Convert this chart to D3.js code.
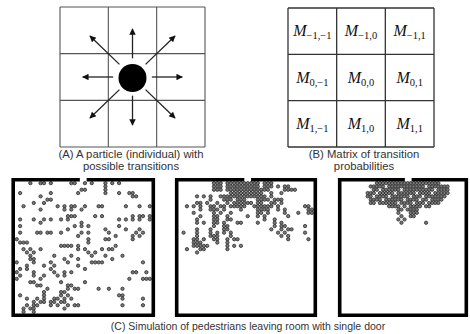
<!DOCTYPE html>
<html>
<head>
<meta charset="utf-8">
<script src="https://cdn.jsdelivr.net/npm/d3@7"></script>
<style>
  body { margin: 0; background: #fff; }
  text { font-family: "Liberation Sans", Arial, sans-serif; }
</style>
</head>
<body>
<script>
// 3x3 neighbourhood: the eight moves and the matrix indices
const moves = [[-1, -1], [-1, 0], [-1, 1], [0, -1], [0, 1], [1, -1], [1, 0], [1, 1]];
const matrixRows = [-1, 0, 1];
const matrixCols = [-1, 0, 1];

const captionA = ["(A) A particle (individual) with", "possible transitions"];
const captionB = ["(B) Matrix of transition", "probabilities"];
const captionC = "(C) Simulation of pedestrians leaving room with single door";

// occupied lattice cells (40 x 40 room), [row, [columns]]
const room1 = [
  [0, [4, 7, 8, 10, 16, 17, 20, 22, 26, 28, 30]],
  [1, [26]],
  [2, [19, 20, 26]],
  [3, [1, 10, 18, 26, 30, 33, 34]],
  [4, [7, 34, 35]],
  [5, [9, 10]],
  [6, [5, 8]],
  [7, [2, 12, 14, 16, 17, 20, 24, 25, 32, 36, 39]],
  [8, [7, 14, 16, 19]],
  [10, [15, 16, 17, 23, 25, 34, 36, 37, 39]],
  [11, [1, 5, 8, 10, 13, 15, 30, 32, 34, 36, 39]],
  [12, [7, 19]],
  [13, [1, 17, 19, 21, 30]],
  [14, [15, 26, 32, 36]],
  [15, [1, 6, 7, 9, 10, 13, 19, 21, 27, 35, 37]],
  [16, [18, 29, 34, 36]],
  [17, [0, 21, 26, 27, 34]],
  [18, [1, 2, 3, 21]],
  [19, [13, 14, 15, 16, 18, 29]],
  [20, [2, 4, 7, 18, 20, 25, 27, 28]],
  [21, [3, 5, 21, 23]],
  [22, [4, 11, 16, 22, 26, 31]],
  [23, [4, 5, 14, 18, 28]],
  [24, [0, 5, 10, 15, 22, 23, 24, 25, 37]],
  [25, [3, 8, 11, 18]],
  [26, [1, 3, 10, 20]],
  [27, [0, 5, 11, 14, 16, 34, 35, 38]],
  [28, [1, 5, 8, 12, 14]],
  [29, [0, 7, 33, 37, 38, 39]],
  [30, [4, 5, 13, 20]],
  [31, [6, 7, 15, 16]],
  [32, [9, 15, 17, 18, 24, 27, 31]],
  [33, [8, 13, 14]],
  [34, [1, 8, 13, 15, 30, 31]],
  [35, [3, 6, 8, 11, 12, 14, 16, 31, 37]],
  [36, [5, 7, 8, 10, 11, 13, 14]],
  [37, [3, 5, 6, 10, 12, 15, 17, 18, 31, 37]],
  [38, [2, 4, 5, 14]],
  [39, [2, 5]]
];

const room2 = [
  [0, [10, 11, 12, 14, 15, 16, 17, 18, 19, 20, 21, 22, 23, 25, 26, 27]],
  [1, [10, 11, 12, 14, 15, 16, 17, 18, 19, 20, 21, 22, 23, 25, 26, 27, 29, 31, 32]],
  [2, [10, 11, 12, 14, 15, 16, 17, 18, 19, 20, 21, 22, 23, 24, 25, 26, 31, 32, 33, 34]],
  [3, [15, 16, 17, 18, 19, 20, 21, 22, 23, 24, 27, 30]],
  [4, [5, 7, 9, 12, 13, 14, 15, 16, 17, 18, 19, 20, 21, 22, 23, 24, 25, 27]],
  [5, [9, 13, 14, 15, 17, 18, 19, 23, 24, 25, 26, 28, 29, 30]],
  [6, [5, 6, 8, 11, 14, 16, 17, 18, 19, 20, 21, 23, 24, 27, 28, 30]],
  [7, [2, 4, 6, 9, 10, 12, 13, 15, 16, 17, 18, 19, 22, 23, 24, 25, 26, 27, 29, 37, 38]],
  [8, [6, 9, 10, 11, 13, 18, 23, 24, 25, 26, 29, 31, 38, 39]],
  [9, [4, 10, 12, 15, 23, 24, 26, 31, 35, 38, 39]],
  [10, [6, 10, 11, 14, 20, 23, 25, 32]],
  [11, [5, 10, 11, 14, 15, 25, 28]],
  [12, [5, 7, 10, 11, 13, 17, 18, 23, 28, 30]],
  [13, [10, 13, 14, 28, 30, 31, 37]],
  [14, [5, 9, 13, 14, 27, 30, 32, 33]],
  [15, [1, 5, 9, 11, 13, 15, 29, 31, 37]],
  [16, [5, 9, 10, 11, 15, 30, 32]],
  [17, [4, 5, 7, 10, 11, 14, 16, 17, 32, 38]],
  [18, [4, 5, 6, 11, 14]],
  [19, [4, 5, 6, 7, 8, 14, 16, 18]],
  [20, [2, 6, 7, 14]],
  [21, [5]]
];

const room3 = [
  [0, [11, 12, 13, 14, 15, 16, 17, 18, 19, 20, 21, 22, 23, 24, 25, 26, 27, 28, 29, 30, 31]],
  [1, [9, 10, 11, 12, 13, 15, 16, 17, 18, 19, 20, 21, 22, 23, 24, 25, 26, 28, 29, 30, 31, 32, 33, 34]],
  [2, [10, 11, 13, 14, 15, 16, 17, 18, 20, 21, 22, 23, 24, 25, 26, 27, 28, 29, 31, 32, 33, 34]],
  [3, [8, 9, 10, 12, 13, 14, 15, 16, 18, 19, 20, 21, 22, 23, 25, 26, 27, 28, 30, 31, 32, 33, 34]],
  [4, [8, 9, 11, 12, 13, 14, 16, 17, 18, 19, 20, 21, 23, 24, 25, 27, 28, 29, 30, 31, 32, 33]],
  [5, [9, 10, 11, 12, 14, 15, 16, 17, 18, 19, 21, 22, 23, 24, 26, 27, 29, 30, 31, 32]],
  [6, [9, 10, 12, 13, 14, 15, 16, 17, 19, 20, 21, 22, 24, 25, 26, 28, 29, 30, 31]],
  [7, [15, 16, 17, 18, 20, 22, 23, 24, 25, 27, 28]],
  [8, [18, 19, 21, 22, 23, 24]],
  [9, [18, 22, 23, 24]],
  [10, [19, 22, 23]],
  [11, [18, 20]],
  [12, [19, 27]]
];

// door opening in the top wall, in lattice columns
const doors = [[19, 21], [19.5, 21.5], [20.6, 22.8]];

const width = 470;
const height = 334;

const svg = d3.select("body").append("svg")
  .attr("width", width)
  .attr("height", height);

svg.append("defs").append("marker")
  .attr("id", "head")
  .attr("viewBox", "0 0 10 10")
  .attr("refX", 9)
  .attr("refY", 5)
  .attr("markerWidth", 8.5)
  .attr("markerHeight", 6.5)
  .attr("markerUnits", "userSpaceOnUse")
  .attr("orient", "auto")
  .append("path")
  .attr("d", "M0,0L10,5L0,10Z")
  .attr("fill", "#111");

// ---- (A) particle with its possible moves
const xA = d3.scaleLinear().domain([-1.5, 1.5]).range([60, 205]);
const yA = d3.scaleLinear().domain([-1.5, 1.5]).range([7, 147]);
const gA = svg.append("g");

gA.selectAll("line.v")
  .data([-1.5, -0.5, 0.5, 1.5])
  .enter().append("line")
  .attr("x1", (d) => xA(d)).attr("x2", (d) => xA(d))
  .attr("y1", yA(-1.5)).attr("y2", yA(1.5))
  .attr("stroke", "#555").attr("stroke-width", 1.1);
gA.selectAll("line.h")
  .data([-1.5, -0.5, 0.5, 1.5])
  .enter().append("line")
  .attr("y1", (d) => yA(d)).attr("y2", (d) => yA(d))
  .attr("x1", xA(-1.5)).attr("x2", xA(1.5))
  .attr("stroke", "#555").attr("stroke-width", 1.1);

// arrows start near the particle and end inside the neighbour cell
const reach = (d) => (d[0] && d[1] ? [0.27, 0.88] : [0.4, 1.03]);
gA.selectAll("line.arrow")
  .data(moves)
  .enter().append("line")
  .attr("x1", (d) => xA(d[1] * reach(d)[0]))
  .attr("y1", (d) => yA(d[0] * reach(d)[0]))
  .attr("x2", (d) => xA(d[1] * reach(d)[1]))
  .attr("y2", (d) => yA(d[0] * reach(d)[1]))
  .attr("stroke", "#222")
  .attr("stroke-width", 1.3)
  .attr("marker-end", "url(#head)");

gA.append("circle")
  .attr("cx", xA(0)).attr("cy", yA(0) + 1)
  .attr("r", 14)
  .attr("fill", "#000");

// ---- (B) transition matrix
const xB = d3.scaleLinear().domain([-1.5, 1.5]).range([288, 434]);
const yB = d3.scaleLinear().domain([-1.5, 1.5]).range([8, 147]);
const gB = svg.append("g");

gB.selectAll("line.v")
  .data([-1.5, -0.5, 0.5, 1.5])
  .enter().append("line")
  .attr("x1", (d) => xB(d)).attr("x2", (d) => xB(d))
  .attr("y1", yB(-1.5)).attr("y2", yB(1.5))
  .attr("stroke", "#333").attr("stroke-width", 1.3);
gB.selectAll("line.h")
  .data([-1.5, -0.5, 0.5, 1.5])
  .enter().append("line")
  .attr("y1", (d) => yB(d)).attr("y2", (d) => yB(d))
  .attr("x1", xB(-1.5)).attr("x2", xB(1.5))
  .attr("stroke", "#333").attr("stroke-width", 1.3);

const cells = matrixRows.flatMap((r) => matrixCols.map((c) => [r, c]));
const fmt = (v) => (v < 0 ? "\u2212" + Math.abs(v) : String(v));
const label = gB.selectAll("text.m")
  .data(cells)
  .enter().append("text")
  .attr("x", (d) => xB(d[1]))
  .attr("y", (d) => yB(d[0]) + 5)
  .attr("text-anchor", "middle")
  .style("font-family", "'Liberation Serif', 'DejaVu Serif', serif")
  .attr("fill", "#111");
label.append("tspan")
  .attr("font-style", "italic")
  .attr("font-size", 16)
  .text("M");
label.append("tspan")
  .attr("font-size", 10.5)
  .attr("dy", 3)
  .text((d) => fmt(d[0]) + "," + fmt(d[1]));

// ---- captions
const caption = (lines, x, y0, size) => {
  svg.selectAll(null)
    .data(lines)
    .enter().append("text")
    .attr("x", x)
    .attr("y", (d, i) => y0 + i * 12)
    .attr("text-anchor", "middle")
    .attr("font-size", size)
    .attr("fill", "#333")
    .text((d) => d);
};
caption(captionA, 131, 158, 11.3);
caption(captionB, 364, 158, 11.3);
caption([captionC], 248, 329.5, 10.5);

// ---- (C) three snapshots of the room
const rooms = [
  { cells: room1, left: 15, right: 151.5 },
  { cells: room2, left: 178.5, right: 313.5 },
  { cells: room3, left: 341.5, right: 464.5 }
];
const roomTop = 181.5;
const roomBottom = 313.5;
const wall = 3.6;

rooms.forEach((room, k) => {
  const x = d3.scaleLinear().domain([0, 40]).range([room.left, room.right]);
  const y = d3.scaleLinear().domain([0, 40]).range([roomTop, roomBottom]);
  const g = svg.append("g");

  const pts = room.cells.flatMap(([r, cols]) => cols.map((c) => [r, c]));
  g.selectAll("circle")
    .data(pts)
    .enter().append("circle")
    .attr("cx", (d) => x(d[1] + 0.5))
    .attr("cy", (d) => y(d[0] + 0.5))
    .attr("r", 1.65)
    .attr("fill", "#7a7a7a")
    .attr("stroke", "#2a2a2a")
    .attr("stroke-width", 0.8);

  const h = wall / 2;
  const l = room.left - h, r = room.right + h, t = roomTop - h, b = roomBottom + h;
  const d0 = x(doors[k][0]), d1 = x(doors[k][1]);
  g.append("path")
    .attr("d", `M${d1},${t}L${r},${t}L${r},${b}L${l},${b}L${l},${t}L${d0},${t}`)
    .attr("fill", "none")
    .attr("stroke", "#000")
    .attr("stroke-width", wall)
    .attr("stroke-linejoin", "miter");
});
</script>
</body>
</html>
